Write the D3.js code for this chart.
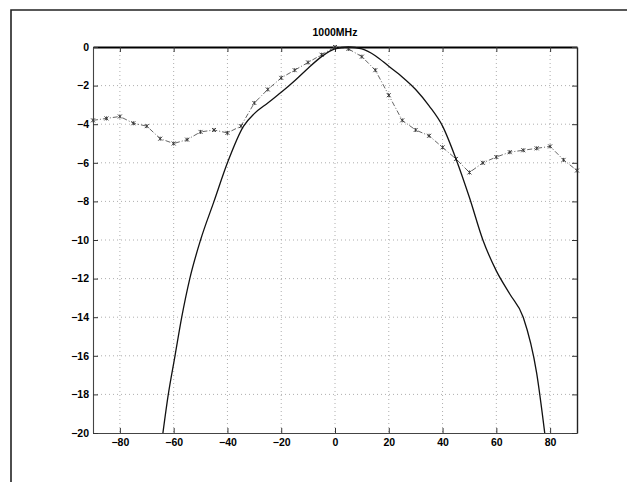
<!DOCTYPE html>
<html><head><meta charset="utf-8">
<script src="https://cdn.jsdelivr.net/npm/d3@7"></script>
<style>body{margin:0;background:#fff}svg{display:block}</style>
</head><body>
<script>
const title = "1000MHz";
const xTicks = [-80,-60,-40,-20,0,20,40,60,80];
const yTicks = [0,-2,-4,-6,-8,-10,-12,-14,-16,-18,-20];
// theoretical pattern (solid)
const solidX = [-64,-62,-59.5,-57,-54,-50,-45,-40,-34,-30,-25,-20,-15,-10,-5,0,5,10,15,20,25,30,35,40,45,50,55,60,65,70,75,78];
const solidY = [-20,-18,-16,-14,-12,-10,-8,-6,-4.1,-3.45,-2.9,-2.35,-1.75,-1.1,-0.5,-0.1,0,-0.1,-0.45,-1.0,-1.55,-2.2,-3.05,-4.1,-5.8,-7.8,-10,-11.6,-12.8,-14,-16.9,-20];
// measured pattern (dash-dot with markers)
const measX = [-90,-85,-80,-75,-70,-65,-60,-55,-50,-45,-40,-35,-30,-25,-20,-15,-10,-5,0,5,10,15,20,25,30,35,40,45,50,55,60,65,70,75,80,85,90];
const measY = [-3.8,-3.7,-3.6,-3.95,-4.1,-4.75,-5.0,-4.8,-4.4,-4.3,-4.45,-4.1,-2.9,-2.2,-1.6,-1.2,-0.8,-0.4,0,-0.1,-0.5,-1.2,-2.5,-3.8,-4.3,-4.6,-5.2,-5.8,-6.5,-6.0,-5.7,-5.45,-5.35,-5.25,-5.15,-5.85,-6.4];

const W = 627, H = 482;
const svg = d3.select("body").append("svg").attr("width", W).attr("height", H);
const L = 93, R = 577, T = 47, B = 433;
const x = d3.scaleLinear().domain([-90, 90]).range([L, R]);
const y = d3.scaleLinear().domain([-20, 0]).range([B, T]);

// outer frame (scan)
svg.append("path").attr("d", `M11,482 L11,10 L627,10`).attr("fill","none").attr("stroke","#222").attr("stroke-width",1.6);

// grid
const g = svg.append("g");
g.selectAll(".gx").data(xTicks).join("line")
  .attr("x1", d => x(d)).attr("x2", d => x(d)).attr("y1", T).attr("y2", B)
  .attr("stroke", "#999").attr("stroke-width", 0.8).attr("stroke-dasharray", "1,3");
g.selectAll(".gy").data(yTicks.filter(d => d !== 0 && d !== -20)).join("line")
  .attr("y1", d => y(d)).attr("y2", d => y(d)).attr("x1", L).attr("x2", R)
  .attr("stroke", "#999").attr("stroke-width", 0.8).attr("stroke-dasharray", "1,3");

// axes with inward ticks
const fontF = "Arial, 'Liberation Sans', sans-serif";
const axB = svg.append("g").attr("transform", `translate(0,${B})`)
  .call(d3.axisBottom(x).tickValues(xTicks).tickSizeInner(-5).tickSizeOuter(0).tickPadding(6));
const axT = svg.append("g").attr("transform", `translate(0,${T})`)
  .call(d3.axisTop(x).tickValues(xTicks).tickSizeInner(-5).tickSizeOuter(0).tickFormat(""));
const axL = svg.append("g").attr("transform", `translate(${L},0)`)
  .call(d3.axisLeft(y).tickValues(yTicks).tickSizeInner(-5).tickSizeOuter(0).tickPadding(4));
const axR = svg.append("g").attr("transform", `translate(${R},0)`)
  .call(d3.axisRight(y).tickValues(yTicks).tickSizeInner(-5).tickSizeOuter(0).tickFormat(""));
[axB, axT, axL, axR].forEach(a => {
  a.select(".domain").attr("stroke", "#444").attr("stroke-width", 1.1);
  a.selectAll(".tick line").attr("stroke", "#333");
  a.selectAll("text").attr("font-family", fontF).attr("font-weight", "bold").attr("font-size", 10.5).attr("fill", "#000");
});
axT.select(".domain").attr("stroke", "#000").attr("stroke-width", 2);
axR.select(".domain").attr("stroke", "#222").attr("stroke-width", 1.4);

// title
svg.append("text").attr("x", x(0)).attr("y", 36).attr("text-anchor", "middle")
  .attr("font-family", fontF).attr("font-weight", "bold").attr("font-size", 10.5).text(title);

// measured (dash-dot)
const meas = measX.map((v, i) => [v, measY[i]]);
const line = d3.line().x(d => x(d[0])).y(d => y(d[1]));
svg.append("path").attr("d", line(meas)).attr("fill", "none")
  .attr("stroke", "#666").attr("stroke-width", 1).attr("stroke-dasharray", "5,2,1,2");
svg.selectAll(".mk").data(meas).join("path")
  .attr("d", d => { const cx = x(d[0]), cy = y(d[1]), s = 2;
    return `M${cx-s},${cy-s}L${cx+s},${cy+s}M${cx-s},${cy+s}L${cx+s},${cy-s}M${cx},${cy-s}L${cx},${cy+s}`; })
  .attr("stroke", "#333").attr("stroke-width", 0.9).attr("fill", "none");

// theoretical (solid)
const solid = solidX.map((v, i) => [v, solidY[i]]);
svg.append("path").attr("d", d3.line().x(d => x(d[0])).y(d => y(d[1])).curve(d3.curveMonotoneX)(solid))
  .attr("fill", "none").attr("stroke", "#111").attr("stroke-width", 1.3);
</script>
</body></html>
